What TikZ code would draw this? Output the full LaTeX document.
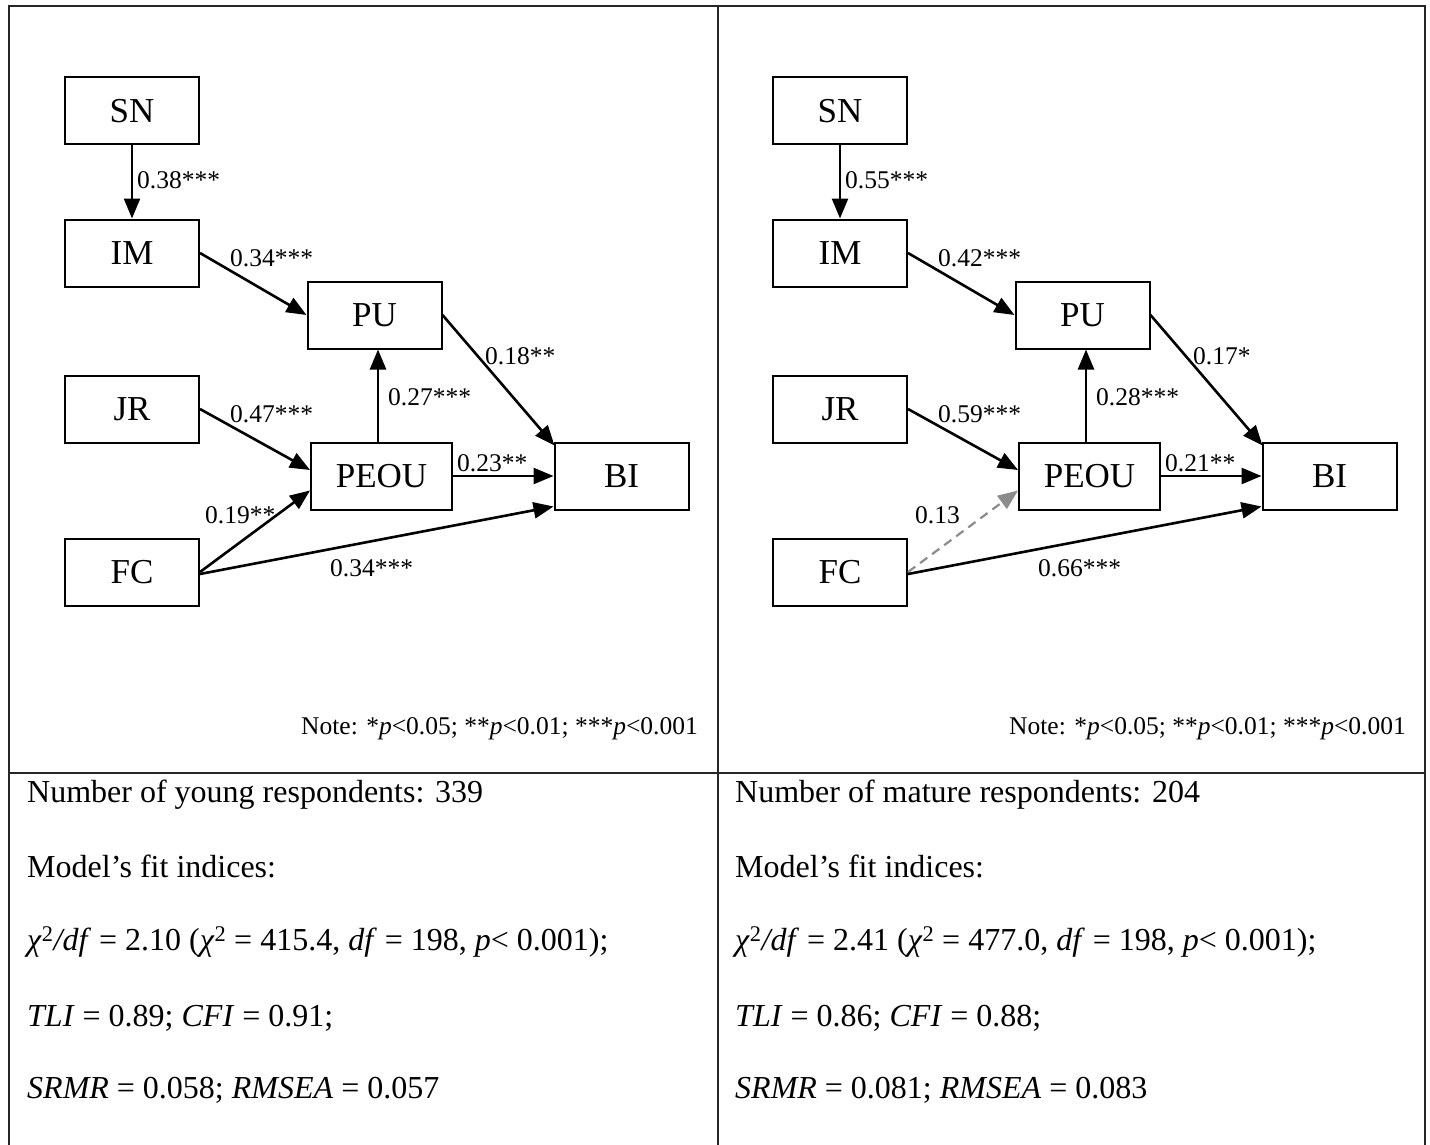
\documentclass[tikz,border=0pt]{standalone}
\usepackage{fontspec}
\setmainfont{Liberation Serif}
\usetikzlibrary{arrows.meta}
\begin{document}
\begin{tikzpicture}[x=1pt,y=-1pt,
  box/.style={draw, line width=2pt, minimum width=134pt, minimum height=67pt, inner sep=0pt, font=\fontsize{35}{40}\selectfont},
  wbox/.style={box, minimum width=141pt},
  lbl/.style={anchor=west, inner sep=0pt, font=\fontsize{25.5}{30}\selectfont},
  conn/.style={line width=2.6pt, -{Triangle[length=20pt,width=16pt]}},
  dconn/.style={conn, gray!90, dash pattern=on 9pt off 6pt, line width=2.2pt},
  txt/.style={anchor=west, inner sep=0pt, font=\fontsize{32}{36}\selectfont},
  note/.style={anchor=east, inner sep=0pt, font=\fontsize{25.5}{30}\selectfont},
  frame/.style={line width=2pt, black!85}]
\useasboundingbox (0,0) rectangle (1430,1145);
\fill[white] (0,0) rectangle (1430,1145);
% frame
\draw[frame] (9,1145) -- (9,6) -- (1425,6) -- (1425,1145);
\draw[frame] (718,6) -- (718,1145);
\draw[frame] (9,773) -- (1425,773);

% ---------- left panel ----------
\node[box] (LSN) at (132,111) {SN};
\node[box] (LIM) at (132,253) {IM};
\node[box] (LPU) at (374.5,315) {PU};
\node[box] (LJR) at (132,409) {JR};
\node[wbox] (LPEOU) at (381.5,476) {PEOU};
\node[box] (LBI) at (621.5,476) {BI};
\node[box] (LFC) at (132,572) {FC};

\draw[conn] (LSN.south) -- (LIM.north);
\draw[conn] (LIM.east) -- (LPU.west);
\draw[conn] (LPU.east) -- ([shift={(1,4)}]LBI.north west);
\draw[conn] ([xshift=-3.5pt]LPEOU.north) -- ([xshift=-3.5pt]LPEOU.north |- LPU.south);
\draw[conn] (LJR.east) -- ([yshift=6pt]LPEOU.west);
\draw[conn] (LPEOU.east) -- (LBI.west);
\draw[conn] (LFC.east) -- ([yshift=20pt]LPEOU.south west);
\draw[conn] ([yshift=-2pt]LFC.east) -- ([yshift=4pt]LBI.south west);

\node[lbl] (l1) at (137,180) {0.38***};
\node[lbl] (l2) at (230,258) {0.34***};
\node[lbl] (l3) at (485,356) {0.18**};
\node[lbl] (l4) at (388,397) {0.27***};
\node[lbl] (l5) at (230,414) {0.47***};
\node[lbl] (l6) at (457,463) {0.23**};
\node[lbl] (l7) at (205,515) {0.19**};
\node[lbl] (l8) at (330,568) {0.34***};
\node[note] (lnote) at (698,729) {Note: *\textit{p}<0.05; **\textit{p}<0.01; ***\textit{p}<0.001};

\node[txt] (lt1) at (27,795) {Number of young respondents: 339};
\node[txt] (lt2) at (27,866) {Model’s fit indices:};
\node[txt] (lt3) at (27,942) {\textit{χ}\textsuperscript{2}\textit{/df} = 2.10 (\textit{χ}\textsuperscript{2} = 415.4, \textit{df} = 198, \textit{p}< 0.001);};
\node[txt] (lt4) at (27,1018) {\textit{TLI} = 0.89; \textit{CFI} = 0.91;};
\node[txt] (lt5) at (27,1090) {\textit{SRMR} = 0.058; \textit{RMSEA} = 0.057};

% ---------- right panel ----------
\begin{scope}[xshift=708pt]
\node[box] (RSN) at (132,111) {SN};
\node[box] (RIM) at (132,253) {IM};
\node[box] (RPU) at (374.5,315) {PU};
\node[box] (RJR) at (132,409) {JR};
\node[wbox] (RPEOU) at (381.5,476) {PEOU};
\node[box] (RBI) at (621.5,476) {BI};
\node[box] (RFC) at (132,572) {FC};

\draw[conn] (RSN.south) -- (RIM.north);
\draw[conn] (RIM.east) -- (RPU.west);
\draw[conn] (RPU.east) -- ([shift={(1,4)}]RBI.north west);
\draw[conn] ([xshift=-3.5pt]RPEOU.north) -- ([xshift=-3.5pt]RPEOU.north |- RPU.south);
\draw[conn] (RJR.east) -- ([yshift=6pt]RPEOU.west);
\draw[conn] (RPEOU.east) -- (RBI.west);
\draw[dconn] (RFC.east) -- ([yshift=20pt]RPEOU.south west);
\draw[conn] ([yshift=-2pt]RFC.east) -- ([yshift=4pt]RBI.south west);

\node[lbl] (r1) at (137,180) {0.55***};
\node[lbl] (r2) at (230,258) {0.42***};
\node[lbl] (r3) at (485,356) {0.17*};
\node[lbl] (r4) at (388,397) {0.28***};
\node[lbl] (r5) at (230,414) {0.59***};
\node[lbl] (r6) at (457,463) {0.21**};
\node[lbl] (r7) at (207,515) {0.13};
\node[lbl] (r8) at (330,568) {0.66***};
\node[note] (rnote) at (698,729) {Note: *\textit{p}<0.05; **\textit{p}<0.01; ***\textit{p}<0.001};

\node[txt] (rt1) at (27,795) {Number of mature respondents: 204};
\node[txt] (rt2) at (27,866) {Model’s fit indices:};
\node[txt] (rt3) at (27,942) {\textit{χ}\textsuperscript{2}\textit{/df} = 2.41 (\textit{χ}\textsuperscript{2} = 477.0, \textit{df} = 198, \textit{p}< 0.001);};
\node[txt] (rt4) at (27,1018) {\textit{TLI} = 0.86; \textit{CFI} = 0.88;};
\node[txt] (rt5) at (27,1090) {\textit{SRMR} = 0.081; \textit{RMSEA} = 0.083};
\end{scope}
\end{tikzpicture}
\end{document}
